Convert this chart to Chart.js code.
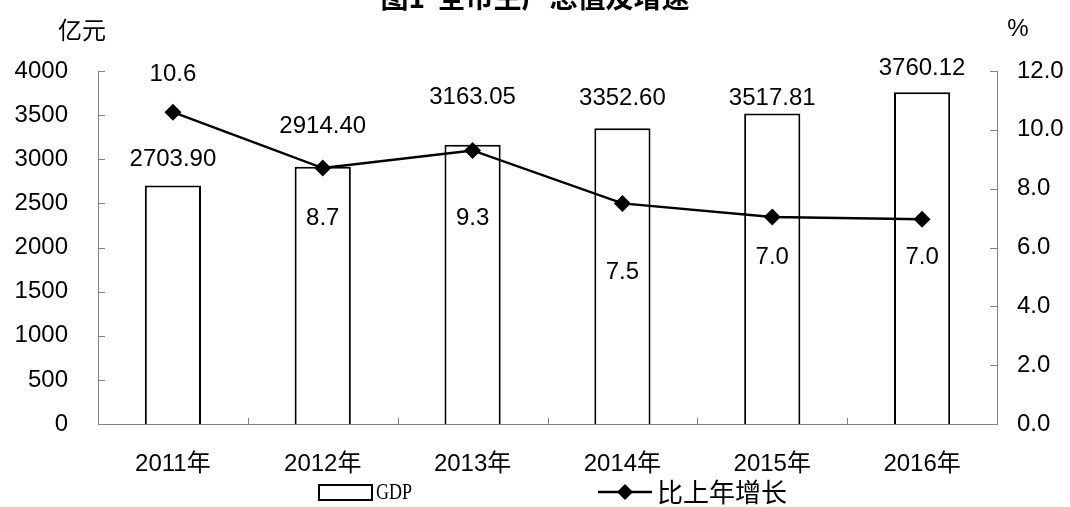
<!DOCTYPE html>
<html>
<head>
<meta charset="utf-8">
<script src="https://cdn.jsdelivr.net/npm/chart.js@4/dist/chart.umd.min.js"></script>
<style>
  html, body { margin: 0; padding: 0; background: #fff; }
  #wrap { width: 1070px; height: 507px; }
</style>
</head>
<body>
<div id="wrap"><canvas id="gdpChart" width="1070" height="507"></canvas></div>
<script>
// chart data
const years = ['2011年', '2012年', '2013年', '2014年', '2015年', '2016年'];
const gdp = [2703.90, 2914.40, 3163.05, 3352.60, 3517.81, 3760.12];
const growth = [10.6, 8.7, 9.3, 7.5, 7.04, 6.96];
const leftTicks = [0, 500, 1000, 1500, 2000, 2500, 3000, 3500, 4000];
const rightTicks = [0, 2, 4, 6, 8, 10, 12];

// label nudges (px, relative to bar top / point)
const gdpLabelDy = [-26, -40, -47, -30, -15, -24];
const growthLabelDy = [-38, 50, 68, 69, 40, 38];

const FONT = "'Liberation Sans', 'Noto Sans CJK SC', sans-serif";
const CJK = "'Noto Sans CJK SC', 'Liberation Sans', sans-serif";
const AXIS = '#808080';

const decor = {
  id: 'decor',
  afterDraw(chart) {
    const ctx = chart.ctx;
    const area = chart.chartArea;
    const x = chart.scales.x, y = chart.scales.y, y1 = chart.scales.y1;
    ctx.save();

    // title (clipped at top like the original)
    ctx.fillStyle = '#000';
    ctx.font = "bold 28px " + CJK;
    ctx.textAlign = 'center';
    ctx.textBaseline = 'bottom';
    ctx.fillText('图1  全市生产总值及增速', 535, 11);

    // units
    ctx.font = "24px " + CJK;
    ctx.textBaseline = 'middle';
    ctx.fillText('亿元', 82, 30);
    ctx.font = "24px " + FONT;
    ctx.fillText('%', 1018, 29);

    // inward tick marks
    ctx.strokeStyle = AXIS;
    ctx.lineWidth = 1;
    ctx.beginPath();
    leftTicks.forEach(v => {
      const py = Math.round(y.getPixelForValue(v)) + 0.5;
      ctx.moveTo(area.left, py); ctx.lineTo(area.left + 7, py);
    });
    rightTicks.forEach(v => {
      const py = Math.round(y1.getPixelForValue(v)) + 0.5;
      ctx.moveTo(area.right, py); ctx.lineTo(area.right - 7, py);
    });
    const step = (area.right - area.left) / years.length;
    for (let i = 1; i < years.length; i++) {
      const px = Math.round(area.left + step * i) + 0.5;
      ctx.moveTo(px, area.bottom); ctx.lineTo(px, area.bottom - 6);
    }
    ctx.stroke();

    // data labels
    ctx.fillStyle = '#000';
    ctx.font = "24px " + FONT;
    ctx.textAlign = 'center';
    ctx.textBaseline = 'middle';
    chart.getDatasetMeta(1).data.forEach((bar, i) => {
      ctx.fillText(gdp[i].toFixed(2), bar.x, bar.y + gdpLabelDy[i]);
    });
    chart.getDatasetMeta(0).data.forEach((pt, i) => {
      ctx.fillText(growth[i].toFixed(1), pt.x, pt.y + growthLabelDy[i]);
    });

    // legend
    const ly = 492;
    ctx.strokeStyle = '#000';
    ctx.lineWidth = 2;
    ctx.strokeRect(319, ly - 7, 53, 15);
    ctx.save();
    ctx.translate(376, ly);
    ctx.scale(0.75, 1);
    ctx.font = "24px 'Liberation Serif', serif";
    ctx.textAlign = 'left';
    ctx.fillText(chart.data.datasets[1].label, 0, 1);
    ctx.restore();

    ctx.beginPath();
    ctx.moveTo(598, ly); ctx.lineTo(652, ly);
    ctx.lineWidth = 2.5;
    ctx.stroke();
    ctx.beginPath();
    ctx.moveTo(625, ly - 8); ctx.lineTo(633, ly); ctx.lineTo(625, ly + 8); ctx.lineTo(617, ly);
    ctx.closePath();
    ctx.fill();
    ctx.font = "26px " + CJK;
    ctx.textAlign = 'left';
    ctx.fillText(chart.data.datasets[0].label, 657, ly);

    ctx.restore();
  }
};

new Chart(document.getElementById('gdpChart'), {
  data: {
    labels: years,
    datasets: [
      {
        type: 'line',
        label: '比上年增长',
        data: growth,
        yAxisID: 'y1',
        borderColor: '#000',
        backgroundColor: '#000',
        borderWidth: 2.5,
        pointStyle: 'rectRot',
        pointRadius: 8.5,
        pointBackgroundColor: '#000',
        pointBorderWidth: 0,
        tension: 0,
        order: 0,
      },
      {
        type: 'bar',
        label: 'GDP',
        data: gdp,
        yAxisID: 'y',
        backgroundColor: '#fff',
        borderColor: '#000',
        borderWidth: 2,
        categoryPercentage: 1,
        barPercentage: 0.375,
        order: 1,
      },
    ],
  },
  options: {
    responsive: false,
    animation: false,
    layout: { padding: { top: 71, left: 0, right: 0, bottom: 0 } },
    plugins: { legend: { display: false }, title: { display: false }, tooltip: { enabled: false } },
    scales: {
      x: {
        grid: { display: false, drawTicks: false },
        border: { color: AXIS, width: 1 },
        ticks: { color: '#000', font: { size: 24, family: FONT }, padding: 26 },
        afterFit(s) { s.height = 83; },
      },
      y: {
        position: 'left',
        min: 0, max: 4000,
        grid: { display: false, drawTicks: false },
        border: { color: AXIS, width: 1 },
        ticks: { stepSize: 500, color: '#000', font: { size: 24, family: FONT }, padding: 30,
                 callback: v => String(v) },
        afterFit(s) { s.width = 98; },
      },
      y1: {
        position: 'right',
        min: 0, max: 12,
        grid: { display: false, drawTicks: false },
        border: { color: AXIS, width: 1 },
        ticks: { stepSize: 2, color: '#000', font: { size: 24, family: FONT }, padding: 20,
                 callback: v => Number(v).toFixed(1) },
        afterFit(s) { s.width = 73; },
      },
    },
  },
  plugins: [decor],
});
</script>
</body>
</html>
